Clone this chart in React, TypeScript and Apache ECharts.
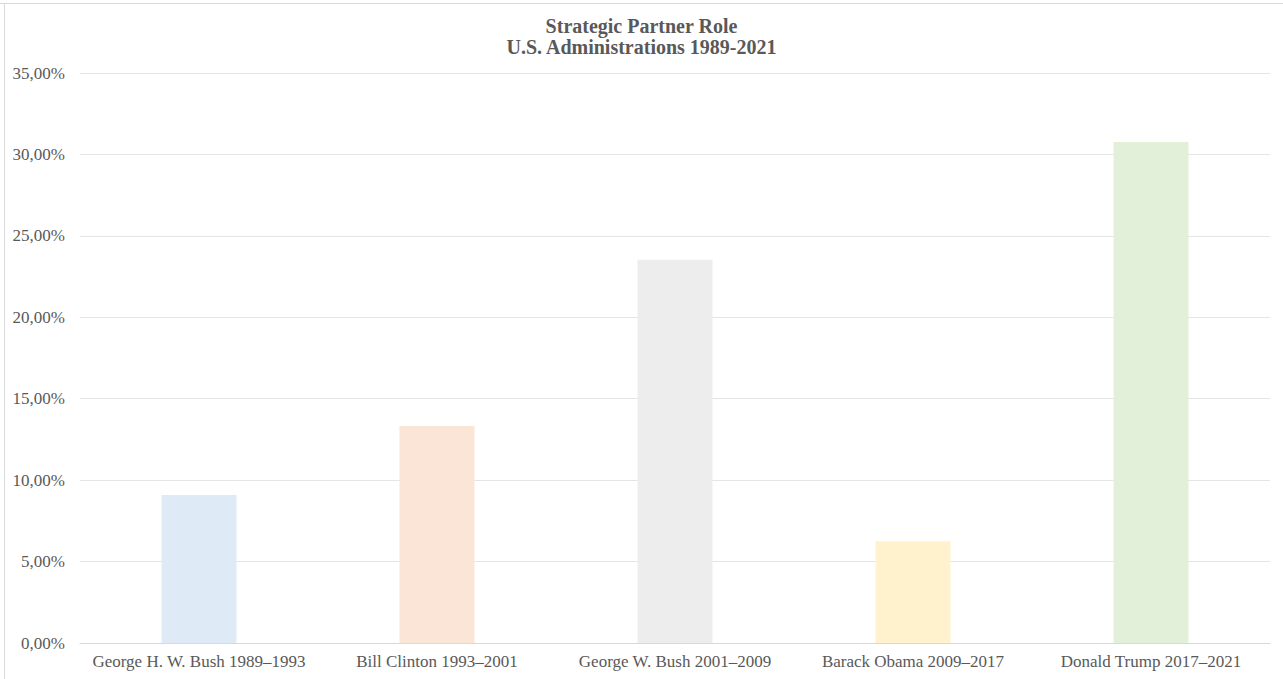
import React, { useEffect, useRef } from "react";
import * as echarts from "echarts";

const categories = [
  "George H. W. Bush 1989–1993",
  "Bill Clinton 1993–2001",
  "George W. Bush 2001–2009",
  "Barack Obama 2009–2017",
  "Donald Trump 2017–2021",
];
const values = [0.0909, 0.1333, 0.2353, 0.0625, 0.3077];
const barColors = ["#DEEBF7", "#FBE5D6", "#EDEDED", "#FFF2CC", "#E2F0D9"];
const titleLines = ["Strategic Partner Role", "U.S. Administrations 1989-2021"];

const FONT = "'Liberation Serif', 'Times New Roman', serif";

export default function App() {
  const ref = useRef<HTMLDivElement>(null);
  useEffect(() => {
    document.body.style.margin = "0";
    const chart = echarts.init(ref.current!, null, { renderer: "svg" });
    chart.setOption({
      animation: false,
      backgroundColor: "#ffffff",
      title: {
        text: titleLines.join("\n"),
        left: "center",
        top: 10,
        textStyle: {
          fontFamily: FONT,
          fontSize: 20,
          fontWeight: "bold",
          color: "#595959",
          lineHeight: 21,
        },
      },
      graphic: [
        { type: "rect", shape: { x: 0, y: 3, width: 1283, height: 1 }, style: { fill: "#d9d9d9" }, silent: true },
        { type: "rect", shape: { x: 4, y: 3, width: 1, height: 676 }, style: { fill: "#d9d9d9" }, silent: true },
      ],
      grid: { left: 80, right: 13, top: 73, bottom: 36, containLabel: false },
      xAxis: {
        type: "category",
        data: categories,
        axisTick: { show: false },
        axisLine: { show: true, lineStyle: { color: "#d9d9d9", width: 1 } },
        axisLabel: {
          fontFamily: FONT,
          fontSize: 17,
          color: "#595959",
          margin: 10,
          interval: 0,
        },
      },
      yAxis: {
        type: "value",
        min: 0,
        max: 0.35,
        interval: 0.05,
        axisLine: { show: false },
        axisTick: { show: false },
        splitLine: { lineStyle: { color: "#e5e5e5", width: 1 } },
        axisLabel: {
          fontFamily: FONT,
          fontSize: 17,
          color: "#595959",
          margin: 15,
          formatter: (v: number) => (v * 100).toFixed(2).replace(".", ",") + "%",
        },
      },
      series: [
        {
          type: "bar",
          data: values.map((v, i) => ({ value: v, itemStyle: { color: barColors[i] } })),
          barWidth: "31.5%",
        },
      ],
    });
    return () => chart.dispose();
  }, []);
  return <div ref={ref} style={{ width: 1283, height: 679 }} />;
}
